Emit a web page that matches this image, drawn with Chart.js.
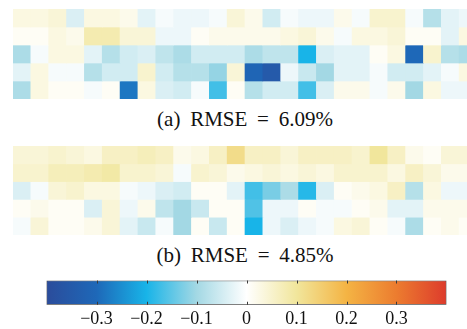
<!DOCTYPE html>
<html>
<head>
<meta charset="utf-8">
<script src="https://cdn.jsdelivr.net/npm/chart.js@4.4.1/dist/chart.umd.min.js"></script>
<style>
  html, body { margin: 0; padding: 0; background: #fff; overflow: hidden; }
  #page { position: relative; width: 467px; height: 329px; overflow: hidden; }
  .map { position: absolute; left: 13px; }
  .cap { position: absolute; left: 245px; transform: translateX(-50%); white-space: nowrap;
         font-family: "Liberation Serif", "DejaVu Serif", serif; font-size: 21px; line-height: 20px;
         word-spacing: 4.5px; color: #111; }
  #bar { position: absolute; left: 0; top: 270px; }
</style>
</head>
<body>
<div id="page">
  <canvas id="mapA" class="map" width="464" height="90" style="top:9px"></canvas>
  <div class="cap" style="top:109px">(a) RMSE = 6.09%</div>
  <canvas id="mapB" class="map" width="464" height="89" style="top:146px"></canvas>
  <div class="cap" style="top:245px">(b) RMSE = 4.85%</div>
  <canvas id="bar" width="467" height="59"></canvas>
</div>
<script>
// Error maps: 5 rows x 26 columns, values are relative errors
const columns = Array.from({length: 26}, (_, i) => String(i + 1));

const errA0 = [0.03,0.03,0.04,-0.04,0.03,0.03,0.02,-0.03,-0.01,-0.02,-0.02,-0.01,0.04,0.02,-0.05,-0.01,-0.02,-0.02,0.02,-0.01,0.05,0.05,-0.01,-0.08,-0.03,-0.02];
const errA1 = [0.01,0.01,0.03,0.02,0.08,0.08,0.04,0.04,-0.02,-0.02,0.01,0.02,0.02,0.02,0.02,0.03,0.04,0.02,-0.01,0.03,0.03,0.04,0.01,0.01,-0.03,0.03];
const errA2 = [-0.09,-0.01,0.03,0.03,-0.03,-0.08,-0.05,-0.04,-0.07,-0.09,-0.05,-0.05,-0.05,-0.09,-0.07,-0.07,-0.2,-0.04,-0.03,-0.03,0.01,0.03,-0.3,0.05,-0.08,-0.09];
const errA3 = [-0.03,0.03,-0.01,-0.01,-0.08,-0.05,-0.05,0.05,-0.05,-0.08,-0.08,-0.11,0.04,-0.31,-0.35,-0.02,-0.06,-0.1,-0.03,-0.03,-0.01,-0.05,-0.05,-0.03,-0.01,0.03];
const errA4 = [-0.09,0.03,0.01,0.01,-0.01,0.01,-0.28,0.03,-0.04,-0.05,-0.01,-0.17,0.01,-0.08,-0.05,-0.05,-0.17,-0.04,0.02,0.02,-0.01,0.02,-0.1,0.03,-0.02,-0.02];

const errB0 = [0.04,0.04,0.05,0.04,0.03,0.06,0.06,0.07,0.06,0.02,0.03,0.06,0.12,0.06,0.06,0.04,0.06,0.06,0.06,0.05,0.1,0.06,0.02,0.01,0.04,0.04];
const errB1 = [0.05,0.05,0.07,0.07,0.08,0.09,0.05,0.05,0.04,-0.01,0.05,0.04,0.02,0.03,0.04,0.03,0.04,0.03,0.05,0.05,0.05,0.03,0.06,0.04,0.02,0.02];
const errB2 = [-0.04,-0.01,0.04,0.05,0.03,0.03,-0.01,-0.02,-0.04,-0.05,0.01,0.01,-0.03,-0.17,-0.13,-0.09,-0.19,-0.04,0.01,0.02,0.03,0.06,-0.08,0.03,-0.02,-0.02];
const errB3 = [0.01,0.02,0.01,0.01,-0.04,0.04,-0.02,0.02,-0.07,-0.1,-0.06,0.01,0.01,-0.16,-0.02,-0.02,0.01,-0.01,-0.01,0.01,0.02,-0.03,-0.03,0.02,0.02,0.02];
const errB4 = [-0.01,0.04,0.01,0.01,0.02,0.04,-0.03,-0.06,-0.01,-0.1,0.01,-0.06,0.01,-0.2,-0.02,-0.04,-0.02,-0.01,0.03,0.04,0.01,-0.01,-0.09,0.01,0.02,0.01];

const rowsA = [errA0, errA1, errA2, errA3, errA4];
const rowsB = [errB0, errB1, errB2, errB3, errB4];

// Colour bar range and tick values
const cbarMin = -0.4, cbarMax = 0.4;
const cbarTicks = [-0.3, -0.2, -0.1, 0, 0.1, 0.2, 0.3];

// Diverging colour map (blue - white - yellow - red)
const cmapStops = [
  [-0.4, [43, 76, 155]],
  [-0.3, [30, 104, 184]],
  [-0.2, [24, 180, 232]],
  [-0.1, [163, 216, 228]],
  [ 0.0, [255, 255, 255]],
  [ 0.1, [241, 230, 156]],
  [ 0.2, [244, 180, 68]],
  [ 0.3, [236, 124, 47]],
  [ 0.4, [221, 59, 44]]
];

function colorFor(v) {
  if (v <= cmapStops[0][0]) return rgb(cmapStops[0][1]);
  for (let i = 1; i < cmapStops.length; i++) {
    const [v1, c1] = cmapStops[i];
    if (v <= v1) {
      const [v0, c0] = cmapStops[i - 1];
      const t = (v - v0) / (v1 - v0);
      return rgb(c0.map((c, k) => c + (c1[k] - c) * t));
    }
  }
  return rgb(cmapStops[cmapStops.length - 1][1]);
}
function rgb(c) { return `rgb(${c.map(x => Math.round(x)).join(',')})`; }

function heatmap(id, rows) {
  const datasets = rows.map((vals, r) => ({
    data: vals.map((v, c) => ({ x: columns[c], y: [r, r + 1], v })),
    backgroundColor: ctx => colorFor(ctx.raw.v),
    borderWidth: 0,
    barPercentage: 1,
    categoryPercentage: 1,
    grouped: false
  }));
  new Chart(document.getElementById(id), {
    type: 'bar',
    data: { labels: columns, datasets },
    options: {
      responsive: false,
      animation: false,
      devicePixelRatio: 1,
      layout: { padding: 0 },
      plugins: { legend: { display: false }, tooltip: { enabled: false } },
      scales: {
        x: { type: 'category', display: false },
        y: { type: 'linear', min: 0, max: rows.length, reverse: true, display: false }
      }
    }
  });
}

heatmap('mapA', rowsA);
heatmap('mapB', rowsB);

// Short tick marks inside the colour bar, top and bottom
const innerTicks = {
  id: 'innerTicks',
  afterDatasetsDraw(chart) {
    const { ctx, chartArea, scales } = chart;
    ctx.save();
    ctx.strokeStyle = '#3a3a3a';
    ctx.lineWidth = 1;
    cbarTicks.forEach(t => {
      const x = Math.round(scales.x.getPixelForValue(t)) + 0.5;
      ctx.beginPath();
      ctx.moveTo(x, chartArea.top); ctx.lineTo(x, chartArea.top + 3);
      ctx.moveTo(x, chartArea.bottom); ctx.lineTo(x, chartArea.bottom - 3);
      ctx.stroke();
    });
    ctx.restore();
  }
};

new Chart(document.getElementById('bar'), {
  type: 'bar',
  data: {
    labels: [''],
    datasets: [{
      data: [[cbarMin, cbarMax]],
      backgroundColor: ctx => {
        const { chart } = ctx;
        const area = chart.chartArea;
        if (!area) return null;
        const g = chart.ctx.createLinearGradient(area.left, 0, area.right, 0);
        cmapStops.forEach(([v, c]) => g.addColorStop((v - cbarMin) / (cbarMax - cbarMin), rgb(c)));
        return g;
      },
      borderColor: '#555',
      borderWidth: 1,
      borderSkipped: false,
      barPercentage: 1,
      categoryPercentage: 1
    }]
  },
  options: {
    indexAxis: 'y',
    responsive: false,
    animation: false,
    devicePixelRatio: 1,
    layout: { padding: { left: 46.5, right: 20.5, top: 10.5, bottom: 0 } },
    plugins: { legend: { display: false }, tooltip: { enabled: false } },
    scales: {
      y: { display: false },
      x: {
        type: 'linear', min: cbarMin, max: cbarMax,
        border: { display: false },
        grid: { display: false, drawTicks: false },
        afterBuildTicks: s => { s.ticks = cbarTicks.map(v => ({ value: v })); },
        ticks: {
          padding: 4,
          color: '#111',
          font: { family: '"Liberation Serif", serif', size: 18 },
          callback: v => {
            const r = Math.round(v * 10) / 10;
            if (r === 0) return '0';
            return (r < 0 ? '\u2212' : '') + Math.abs(r).toFixed(1);
          }
        }
      }
    }
  },
  plugins: [innerTicks]
});
</script>
</body>
</html>
